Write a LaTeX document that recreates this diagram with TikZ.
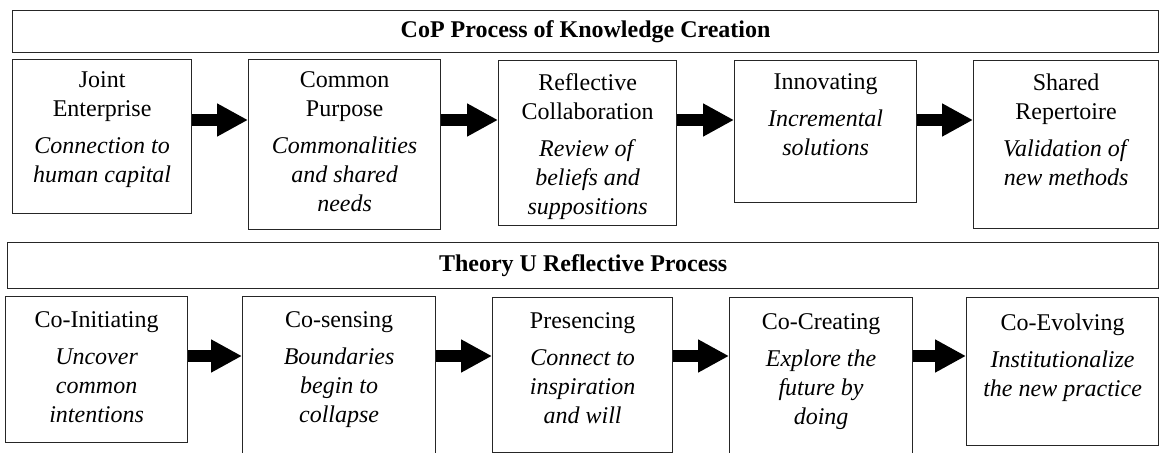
\documentclass[tikz,border=0pt]{standalone}
\usepackage{fontspec}
\setmainfont{Liberation Serif}
\usetikzlibrary{arrows.meta,calc}
\tikzset{
  box/.style={draw=black!85, line width=0.6pt, rectangle, inner sep=0pt, anchor=north west},
  txt/.style={inner sep=0pt, align=center, anchor=north, font=\fontsize{12}{14.5}\selectfont},
  ttl/.style={inner sep=0pt, font=\fontsize{12}{14.5}\selectfont\bfseries},
  bigarrow/.style={line width=6pt, -{Triangle[length=15.5pt,width=15.5pt]}}
}
\begin{document}
\begin{tikzpicture}[x=0.5pt,y=-0.5pt]
\useasboundingbox (0,0) rectangle (1159,453);
\clip (0,0) rectangle (1159,453);
% row 1
\node[box, minimum width=573pt, minimum height=21pt] (T1) at (12,10) {};
\node[ttl] (T1t) at (T1.center) {CoP Process of Knowledge Creation};
\node[box, minimum width=89.5pt, minimum height=77pt] (b1) at (12,59) {};
\node[box, minimum width=96pt, minimum height=85pt] (b2) at (248,59) {};
\node[box, minimum width=89pt, minimum height=82.5pt] (b3) at (498,60) {};
\node[box, minimum width=91pt, minimum height=71pt] (b4) at (734,60) {};
\node[box, minimum width=92.5pt, minimum height=84pt] (b5) at (973,60) {};
\node[txt] (t1) at ($(b1.north)+(0,12)$) {Joint\\Enterprise\\[4pt]\textit{Connection to}\\\textit{human capital}};
\node[txt] (t2) at ($(b2.north)+(0,12)$) {Common\\Purpose\\[4pt]\textit{Commonalities}\\\textit{and shared}\\\textit{needs}};
\node[txt] (t3) at ($(b3.north)+(0,13)$) {Reflective\\Collaboration\\[4pt]\textit{Review of}\\\textit{beliefs and}\\\textit{suppositions}};
\node[txt] (t4) at ($(b4.north)+(0,13)$) {Innovating\\[4pt]\textit{Incremental}\\\textit{solutions}};
\node[txt] (t5) at ($(b5.north)+(0,13)$) {Shared\\Repertoire\\[4pt]\textit{Validation of}\\\textit{new methods}};
\coordinate (r1) at (0,120);
\draw[bigarrow] (b1.east |- r1) -- (b2.west |- r1);
\draw[bigarrow] (b2.east |- r1) -- (b3.west |- r1);
\draw[bigarrow] (b3.east |- r1) -- (b4.west |- r1);
\draw[bigarrow] (b4.east |- r1) -- (b5.west |- r1);
% row 2
\node[box, minimum width=575.5pt, minimum height=23pt] (T2) at (7,242) {};
\node[ttl] (T2t) at (T2.center) {Theory U Reflective Process};
\node[box, minimum width=91pt, minimum height=73pt] (b6) at (5,296) {};
\node[box, minimum width=96.5pt, minimum height=87pt] (b7) at (242,296) {};
\node[box, minimum width=90pt, minimum height=77.5pt] (b8) at (492,297) {};
\node[box, minimum width=91.5pt, minimum height=86.5pt] (b9) at (729,297) {};
\node[box, minimum width=96pt, minimum height=74pt] (b10) at (966,297) {};
\node[txt] (t6) at ($(b6.north)+(0,15)$) {Co-Initiating\\[4pt]\textit{Uncover}\\\textit{common}\\\textit{intentions}};
\node[txt] (t7) at ($(b7.north)+(0,15)$) {Co-sensing\\[4pt]\textit{Boundaries}\\\textit{begin to}\\\textit{collapse}};
\node[txt] (t8) at ($(b8.north)+(0,15)$) {Presencing\\[4pt]\textit{Connect to}\\\textit{inspiration}\\\textit{and will}};
\node[txt] (t9) at ($(b9.north)+(0,16)$) {Co-Creating\\[4pt]\textit{Explore the}\\\textit{future by}\\\textit{doing}};
\node[txt] (t10) at ($(b10.north)+(0,16)$) {Co-Evolving\\[4pt]\textit{Institutionalize}\\\textit{the new practice}};
\coordinate (r2) at (0,356);
\draw[bigarrow] (b6.east |- r2) -- (b7.west |- r2);
\draw[bigarrow] (b7.east |- r2) -- (b8.west |- r2);
\draw[bigarrow] (b8.east |- r2) -- (b9.west |- r2);
\draw[bigarrow] (b9.east |- r2) -- (b10.west |- r2);
\end{tikzpicture}
\end{document}
